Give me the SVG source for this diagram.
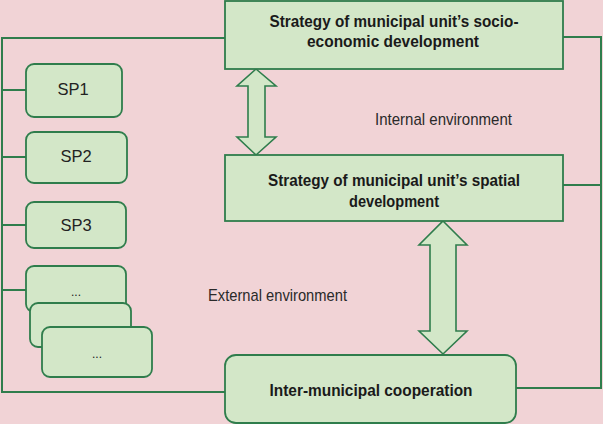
<svg xmlns="http://www.w3.org/2000/svg" width="603" height="424" viewBox="0 0 603 424">
<style>
.bg{fill:#f1d3d6}
.box{fill:#d3e7c8;stroke:#2f7d4c;stroke-width:1.8}
.ln{fill:none;stroke:#2f7d4c;stroke-width:2}
.arr{fill:#d3e7c8;stroke:#2f7d4c;stroke-width:1.6;stroke-linejoin:miter}
.bt{font-family:"Liberation Sans",Arial,sans-serif;font-weight:bold;font-size:17px;fill:#1a1a1a;text-anchor:middle}
.rt{font-family:"Liberation Sans",Arial,sans-serif;font-size:17px;fill:#2a2a2a}
.st{font-family:"Liberation Sans",Arial,sans-serif;font-size:16.5px;fill:#222;text-anchor:middle}
</style>
<rect class="bg" x="0" y="0" width="603" height="424"/>
<g id="connectors">
<polyline class="ln" points="225,38 2,38 2,392 225,392"/>
<line class="ln" x1="2" y1="90" x2="26" y2="90"/>
<line class="ln" x1="2" y1="157" x2="26" y2="157"/>
<line class="ln" x1="2" y1="225" x2="26" y2="225"/>
<line class="ln" x1="2" y1="290" x2="26" y2="290"/>
<polyline class="ln" points="563,37 601,37 601,388 516,388"/>
<line class="ln" x1="563" y1="185" x2="601" y2="185"/>
<polygon class="arr" points="256,69 276,86 265,86 265,137 276,137 256,155 237,137 248,137 248,86 237,86"/>
<polygon class="arr" points="443,221 467,245 456,245 456,331 467,331 443,354 419,331 430,331 430,245 419,245"/>
</g>
<g id="socio">
<rect class="box" x="225" y="1" width="338" height="68"/>
<text class="bt" x="394" y="27" textLength="249" lengthAdjust="spacingAndGlyphs">Strategy of municipal unit’s socio-</text>
<text class="bt" x="393" y="47" textLength="172" lengthAdjust="spacingAndGlyphs">economic development</text>
</g>
<g id="spatial">
<rect class="box" x="225" y="155" width="338" height="66"/>
<text class="bt" x="394" y="186" textLength="252" lengthAdjust="spacingAndGlyphs">Strategy of municipal unit’s spatial</text>
<text class="bt" x="394" y="207" textLength="90" lengthAdjust="spacingAndGlyphs">development</text>
</g>
<g id="inter">
<rect class="box" x="225" y="355" width="291" height="68" rx="11"/>
<text class="bt" x="371" y="396" textLength="203" lengthAdjust="spacingAndGlyphs">Inter-municipal cooperation</text>
</g>
<g id="sp1">
<rect class="box" x="26" y="64" width="96" height="53" rx="8"/>
<text class="st" x="73" y="95">SP1</text>
</g>
<g id="sp2">
<rect class="box" x="26" y="132" width="101" height="51" rx="8"/>
<text class="st" x="76" y="162">SP2</text>
</g>
<g id="sp3">
<rect class="box" x="26" y="202" width="100" height="46" rx="8"/>
<text class="st" x="76" y="231">SP3</text>
</g>
<g id="spx1">
<rect class="box" x="26" y="266" width="100" height="46" rx="8"/>
<text class="st" x="76" y="296" style="font-size:12px">...</text>
</g>
<g id="spx2">
<rect class="box" x="30" y="303" width="101" height="44" rx="8"/>
</g>
<g id="spx3">
<rect class="box" x="42" y="327" width="110" height="50" rx="8"/>
<text class="st" x="97" y="358" style="font-size:12px">...</text>
</g>
<g id="labels">
<text class="rt" x="375" y="125" textLength="137" lengthAdjust="spacingAndGlyphs">Internal environment</text>
<text class="rt" x="208" y="301" textLength="139" lengthAdjust="spacingAndGlyphs">External environment</text>
</g>
</svg>
